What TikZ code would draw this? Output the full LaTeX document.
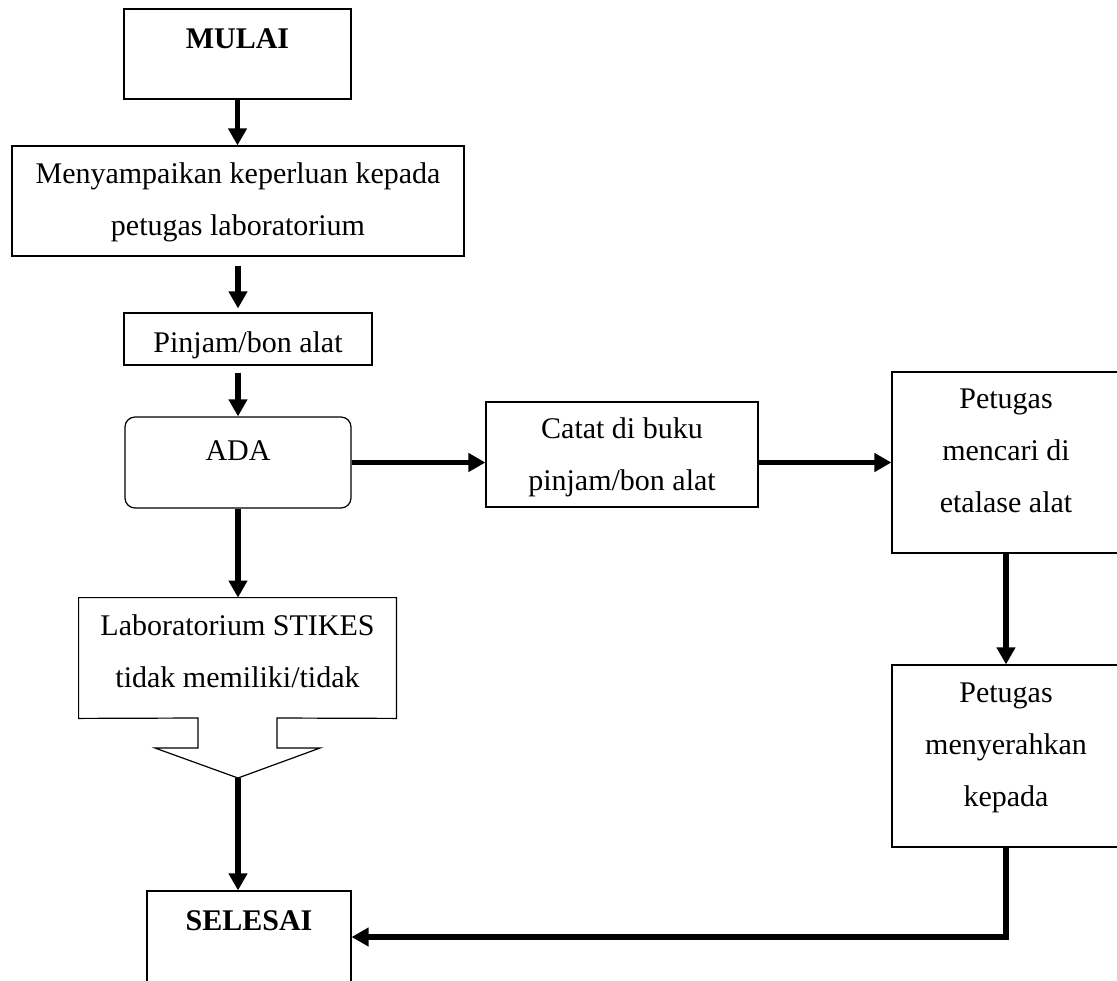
\documentclass[tikz,border=0pt]{standalone}
\usepackage{fontspec}
\setmainfont{Liberation Serif}
\usetikzlibrary{arrows.meta}
\begin{document}
\begin{tikzpicture}[x=0.5pt, y=-0.5pt,
  font=\fontsize{15pt}{26pt}\selectfont,
  kotak/.style={draw, line width=0.6pt, inner sep=0pt, align=center},
  panah/.style={line width=2.8pt, -{Triangle[length=8.5pt, width=9pt]}}]
\useasboundingbox (0,0) rectangle (1117,980);

\node[kotak, minimum width=113.5pt, text height=19.5pt,
  text depth=25.5pt] (mulai) at (237.5,54) {\textbf{MULAI}};
\node[kotak, minimum width=226pt, text height=44.5pt, text depth=10.5pt]
  (sampaikan) at (238,201) {Menyampaikan keperluan kepada\\petugas laboratorium};
\node[kotak, minimum width=124pt, text height=19.5pt, text depth=6.5pt]
  (pinjam) at (248,339) {Pinjam/bon alat};
\node[kotak, rounded corners=5pt, minimum width=113pt, text height=21.5pt,
  text depth=24pt] (ada) at (238,462.5) {ADA};
\node[kotak, minimum width=136pt, text height=44pt, text depth=8.5pt]
  (catat) at (622,454.5) {Catat di buku\\pinjam/bon alat};
\node[kotak, minimum width=114pt, text height=70pt, text depth=20.5pt]
  (cari) at (1006,462.5) {Petugas\\mencari di\\etalase alat};
\node[kotak, minimum width=114pt, text height=70.5pt, text depth=20.5pt]
  (serah) at (1006,756) {Petugas\\menyerahkan\\kepada};

% kotak dengan ekor ke bawah
\node[inner sep=0pt, minimum width=158.5pt, text height=44.5pt,
  text depth=15.5pt, align=center] (tidak) at (237.5,658)
  {Laboratorium STIKES\\tidak memiliki/tidak};
\draw[line width=0.6pt] (tidak.south west) -- (tidak.north west)
  -- (tidak.north east) -- (tidak.south east) -- (277,718) -- (277,748)
  -- (320,748) -- (238,778) -- (155,748) -- (198,748) -- (198,718) -- cycle;
\coordinate (ujung) at (238,778);

\node[kotak, minimum width=102pt, text height=19.5pt,
  text depth=26.5pt] (selesai) at (249,937) {\textbf{SELESAI}};

\draw[panah] (mulai.south) -- (mulai.south |- sampaikan.north);
\draw[panah, shorten <=4.5pt, shorten >=2pt] (sampaikan.south)
  -- (sampaikan.south |- pinjam.north);
\draw[panah, shorten <=3.5pt] (pinjam.south -| ada.north) -- (ada.north);
\draw[panah] (ada.east) -- (ada.east -| catat.west);
\draw[panah] (cari.west -| catat.east) -- (cari.west);
\draw[panah] (cari.south) -- (serah.north);
\draw[panah] (ada.south) -- (ada.south |- tidak.north);
\draw[panah] (ujung) -- (ujung |- selesai.north);
\draw[panah] (serah.south) |- (selesai.east);
\end{tikzpicture}
\end{document}
